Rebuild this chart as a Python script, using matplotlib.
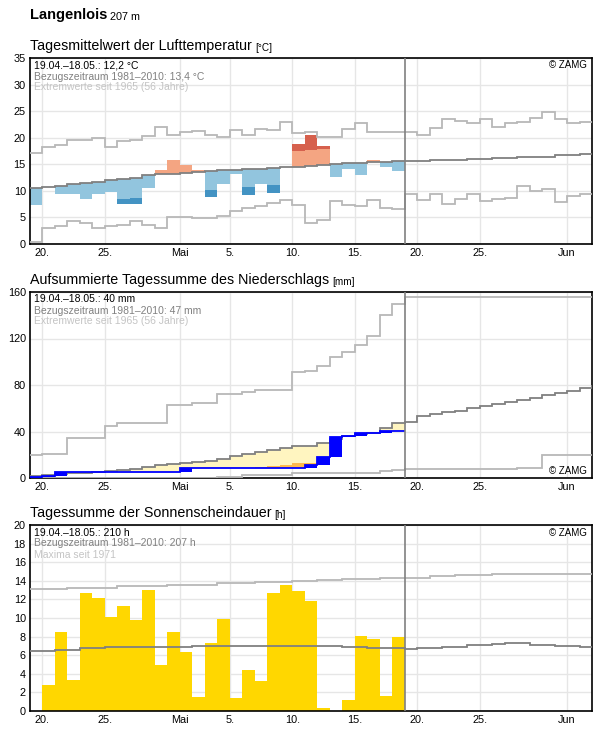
import numpy as np
import matplotlib.pyplot as plt

plt.rcParams['font.family'] = ['Liberation Sans', 'DejaVu Sans']

# x axis: day 0 = 19.04., one unit per day
tick_pos = [1, 6, 12, 16, 21, 26, 31, 36, 43]
tick_lab = ["20.", "25.", "Mai", "5.", "10.", "15.", "20.", "25.", "Jun"]
n_days = 46
today = 30

# --- temperature (deg C) ---
temp_obs = [7.4, 10.7, 9.5, 9.5, 8.5, 9.5, 9.85, 7.6, 7.6, 10.6,
            13.9, 15.8, 14.9, 13.9, 8.9, 11.3, 13.2, 9.2, 11.3, 9.65,
            14.4, 18.8, 20.5, 18.4, 12.7, 14.2, 13.0, 15.8, 14.55, 13.8]
temp_sd = [4.2, 4.2, 4.1, 4.1, 4.0, 4.0, 3.9, 3.85, 3.9, 3.8,
           3.7, 3.7, 3.6, 3.6, 3.5, 3.5, 3.45, 3.4, 3.3, 3.2,
           3.2, 3.1, 3.1, 3.1, 3.1, 3.0, 3.0, 3.0, 3.0, 3.0]
temp_mean = [10.5, 10.7, 10.9, 11.2, 11.4, 11.7, 12.1, 12.3, 12.5, 12.9,
             13.1, 13.1, 13.3, 13.5, 13.7, 13.85, 13.9, 14.1, 14.1, 14.3,
             14.4, 14.4, 14.6, 14.8, 15.0, 15.2, 15.2, 15.4, 15.4, 15.55,
             15.6, 15.6, 15.8, 15.8, 15.8, 16.0, 16.0, 16.2, 16.2, 16.4,
             16.4, 16.4, 16.75, 16.75, 16.9, 16.9]
temp_max = [17.1, 18.2, 18.6, 19.6, 19.6, 19.9, 18.2, 19.3, 19.5, 20.3,
            22.1, 20.6, 21.1, 21.3, 20.6, 20.1, 21.4, 20.6, 21.6, 21.4,
            23.0, 20.8, 21.0, 20.1, 20.1, 21.6, 22.8, 21.0, 21.0, 21.0,
            21.1, 20.45, 21.8, 23.5, 23.1, 22.8, 23.5, 21.95, 22.8, 22.96,
            23.65, 24.8, 23.5, 22.8, 22.96, 22.96]
temp_min = [0.3, 3.1, 3.3, 4.3, 3.9, 2.95, 3.3, 3.5, 4.3, 3.5,
            3.1, 5.0, 5.0, 4.8, 4.8, 5.2, 6.2, 6.7, 7.1, 7.65,
            8.3, 7.3, 3.9, 4.5, 8.0, 7.3, 7.1, 8.3, 6.7, 6.5,
            9.4, 8.2, 9.4, 7.6, 8.5, 9.4, 8.0, 8.5, 8.65, 10.9,
            9.9, 10.35, 7.85, 9.1, 9.4, 9.4]

# --- precipitation (mm) ---
precip_day = [1.0, 0.8, 3.7, 0, 0, 0, 0, 0, 0, 0,
              0, 0, 3.0, 0, 0, 0, 0, 0, 0, 0,
              0, 0, 2.6, 6.9, 17.2, 0.6, 2.9, 0, 1.7, 0]
precip_low = [0.5, 1.0, 1.4, 1.8, 2.1, 2.5, 2.9, 3.3, 3.7, 4.1,
              4.6, 5.1, 5.6, 6.1, 6.6, 7.2, 7.8, 8.3, 9.5, 10.5,
              11.5, 13.0, 13.0, 14.0, 16.0, 17.0, 18.0, 18.5, 20.0, 21.5]
precip_mean = [1.5, 2.4, 3.3, 4.0, 4.6, 5.5, 6.4, 7.2, 8.1, 9.2,
               10.9, 12.1, 13.3, 14.1, 15.0, 16.7, 18.7, 21.0, 22.2, 23.9,
               25.6, 27.4, 27.9, 29.7, 33.7, 36.0, 38.0, 38.3, 42.6, 46.9,
               48.3, 53.2, 55.0, 56.5, 58.0, 60.0, 62.0, 63.5, 65.0, 67.0,
               69.0, 71.0, 73.0, 75.0, 77.5, 79.5]
precip_max = [19.6, 20.4, 20.4, 34.0, 34.0, 34.0, 44.6, 46.9, 46.9, 46.9,
              46.9, 62.5, 62.5, 64.2, 64.2, 72.0, 72.0, 74.2, 75.7, 75.7,
              75.7, 90.9, 92.0, 96.0, 104.0, 108.0, 114.0, 122.0, 140.0, 150.0,
              156.0, 156.0, 156.0, 156.0, 156.0, 156.0, 156.0, 156.0, 156.0, 156.0,
              156.0, 156.0, 156.0, 156.0, 156.0, 156.0]
precip_min = [0, 0, 0, 0, 0, 0, 0, 0, 0, 0,
              0, 0, 0, 0, 0, 0.5, 0.9, 2.6, 2.6, 2.6,
              2.6, 4.6, 4.6, 4.6, 4.6, 4.6, 4.6, 4.6, 5.8, 7.2,
              7.8, 8.0, 8.0, 8.0, 8.0, 8.0, 8.0, 8.0, 8.0, 8.5,
              8.5, 19.6, 19.6, 19.6, 19.6, 19.6]

# --- sunshine (h) ---
sun_obs = [0, 2.8, 8.45, 3.3, 12.65, 12.1, 10.1, 11.25, 9.8, 13.0,
           4.95, 8.45, 6.3, 1.47, 7.3, 9.85, 1.37, 4.37, 3.19, 12.65,
           13.5, 12.9, 11.8, 0.3, 0, 1.18, 8.06, 7.78, 1.6, 7.96]
sun_mean = [6.4, 6.4, 6.6, 6.6, 6.75, 6.75, 6.9, 6.9, 6.9, 6.9,
            6.9, 6.9, 6.9, 7.0, 7.0, 7.0, 7.0, 7.0, 7.0, 7.0,
            7.0, 7.0, 7.0, 7.0, 7.0, 6.88, 6.88, 6.77, 6.77, 6.77,
            6.63, 6.75, 6.75, 6.88, 6.88, 7.13, 7.13, 7.2, 7.27, 7.27,
            7.13, 7.13, 7.0, 7.0, 6.9, 6.9]
sun_max = [13.1, 13.1, 13.1, 13.25, 13.25, 13.25, 13.25, 13.45, 13.45, 13.45,
           13.45, 13.6, 13.6, 13.6, 13.6, 13.75, 13.75, 13.75, 13.9, 13.9,
           13.9, 14.0, 14.0, 14.1, 14.1, 14.15, 14.15, 14.15, 14.25, 14.25,
           14.35, 14.35, 14.5, 14.5, 14.6, 14.6, 14.6, 14.7, 14.7, 14.7,
           14.7, 14.7, 14.7, 14.7, 14.7, 14.7]

DARK = '#808080'
LIGHT = '#b8b8b8'
GRID = '#e6e6e6'

fig = plt.figure(figsize=(5.96, 7.29), dpi=100)


def make_axes(top, bottom, ymax, ystep):
    ax = fig.add_axes([30 / 596, 1 - bottom / 729, 562 / 596, (bottom - top) / 729])
    ax.set_xlim(0, 45)
    ax.set_ylim(0, ymax)
    ax.set_yticks(np.arange(0, ymax + 1, ystep))
    ax.set_xticks(tick_pos)
    ax.set_xticklabels(tick_lab)
    ax.tick_params(labelsize=7.8, length=0, pad=3)
    ax.grid(True, color=GRID, lw=1.0, zorder=0)
    ax.set_axisbelow(True)
    for s in ax.spines.values():
        s.set_linewidth(1.2)
        s.set_color('black')
    ax.axvline(today, color=DARK, lw=1.2, zorder=6)
    return ax


def titles(ax, title, unit):
    t = ax.annotate(title, xy=(0, 1), xycoords='axes fraction', xytext=(0, 8),
                    textcoords='offset pixels', fontsize=10.3, va='baseline')
    ax.annotate(unit, xy=(1, 0), xycoords=t, xytext=(3, 0),
                textcoords='offset pixels', fontsize=7.2, va='bottom')


def info(ax, lines, zamg_top=True):
    cols = ['black', DARK, '#c4c4c4']
    for i, (txt, c) in enumerate(zip(lines, cols)):
        ax.annotate(txt, xy=(0, 1), xycoords='axes fraction', xytext=(4, -7.5 - 11 * i),
                    textcoords='offset pixels', fontsize=7.5, va='center', color=c)
    if zamg_top:
        ax.annotate('© ZAMG', xy=(1, 1), xycoords='axes fraction', xytext=(-5, -7.5),
                    textcoords='offset pixels', fontsize=7, va='center', ha='right')
    else:
        ax.annotate('© ZAMG', xy=(1, 0), xycoords='axes fraction', xytext=(-5, 7),
                    textcoords='offset pixels', fontsize=7, va='center', ha='right')


edges_all = np.arange(n_days + 1)
days = np.arange(len(temp_obs))
edges_obs = np.arange(len(temp_obs) + 1)

# header
head = fig.text(30 / 596, 1 - 18.5 / 729, 'Langenlois', fontweight='bold', fontsize=10.5, va='baseline')
fig.axes  # noqa
ann_ax = fig.add_axes([0, 0, 1, 1], frameon=False)
ann_ax.set_axis_off()
ann_ax.annotate('207 m', xy=(1, 0), xycoords=head, xytext=(3, 0), textcoords='offset pixels',
                fontsize=7.8, va='bottom')

# ---------------- temperature ----------------
ax1 = make_axes(58, 244, 35, 5)
titles(ax1, 'Tagesmittelwert der Lufttemperatur', '[°C]')
obs = np.array(temp_obs)
mean = np.array(temp_mean[:len(obs)])
sd = np.array(temp_sd)
lo, hi = mean - sd, mean + sd

m = obs < mean
b = np.maximum(obs, lo)
ax1.bar(days[m], (mean - b)[m], bottom=b[m], width=1, align='edge', color='#92c5de', lw=0, zorder=2)
m2 = obs < lo
ax1.bar(days[m2], (lo - obs)[m2], bottom=obs[m2], width=1, align='edge', color='#4393c3', lw=0, zorder=2)
m = obs > mean
t = np.minimum(obs, hi)
ax1.bar(days[m], (t - mean)[m], bottom=mean[m], width=1, align='edge', color='#f4a582', lw=0, zorder=2)
m2 = obs > hi
ax1.bar(days[m2], (obs - hi)[m2], bottom=hi[m2], width=1, align='edge', color='#d6604d', lw=0, zorder=2)

ax1.stairs(temp_max, edges_all, baseline=None, color=LIGHT, lw=1.3, zorder=3)
ax1.stairs(temp_min, edges_all, baseline=None, color=LIGHT, lw=1.3, zorder=3)
ax1.stairs(temp_mean, edges_all, baseline=None, color=DARK, lw=1.3, zorder=4)
info(ax1, ['19.04.–18.05.: 12,2 °C', 'Bezugszeitraum 1981–2010: 13,4 °C',
           'Extremwerte seit 1965 (56 Jahre)'])

# ---------------- precipitation ----------------
ax2 = make_axes(292, 478, 160, 40)
titles(ax2, 'Aufsummierte Tagessumme des Niederschlags', '[mm]')
rain = np.array(precip_day)
cum = np.cumsum(rain)
prev = cum - rain
pmean = np.array(precip_mean[:len(rain)])
plow = np.array(precip_low)

m = cum < pmean
b = np.maximum(cum, plow)
ax2.bar(days[m], (pmean - b)[m], bottom=b[m], width=1, align='edge', color='#fff5c0', lw=0, zorder=2)
m2 = cum < plow
t = np.minimum(plow, pmean)
ax2.bar(days[m2], (t - cum)[m2], bottom=cum[m2], width=1, align='edge', color='#fdb94e', lw=0, zorder=2)

ax2.stairs(precip_max, edges_all, baseline=None, color=LIGHT, lw=1.3, zorder=3)
ax2.stairs(precip_min, edges_all, baseline=None, color=LIGHT, lw=1.3, zorder=3)
ax2.stairs(precip_mean, edges_all, baseline=None, color=DARK, lw=1.3, zorder=4)
r = rain > 0
ax2.bar(days[r], rain[r], bottom=prev[r], width=1, align='edge', color='#0000ff', lw=0, zorder=4)
ax2.stairs(cum, edges_obs, baseline=None, color='#0000ff', lw=1.3, zorder=5)
info(ax2, ['19.04.–18.05.: 40 mm', 'Bezugszeitraum 1981–2010: 47 mm',
           'Extremwerte seit 1965 (56 Jahre)'], zamg_top=False)

# ---------------- sunshine ----------------
ax3 = make_axes(525, 711, 20, 2)
titles(ax3, 'Tagessumme der Sonnenscheindauer', '[h]')
ax3.bar(days, sun_obs, width=1, align='edge', color='#ffd700', lw=0, zorder=2)
ax3.stairs(sun_max, edges_all, baseline=None, color=LIGHT, lw=1.3, zorder=3)
ax3.stairs(sun_mean, edges_all, baseline=None, color=DARK, lw=1.3, zorder=4)
info(ax3, ['19.04.–18.05.: 210 h', 'Bezugszeitraum 1981–2010: 207 h', 'Maxima seit 1971'])

fig.savefig('out.png', dpi=100)
